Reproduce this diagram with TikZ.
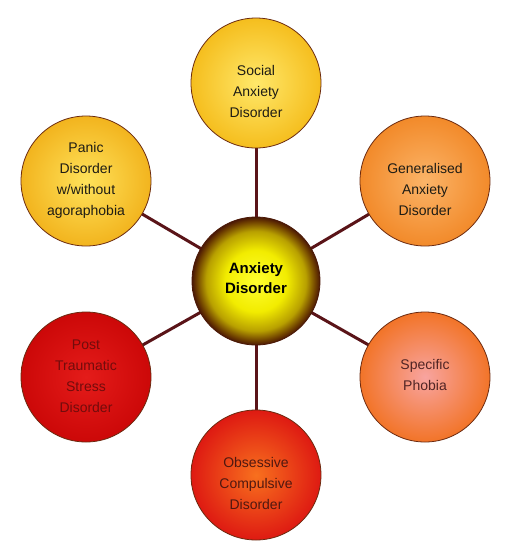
\documentclass[tikz,border=0pt]{standalone}
\usepackage{fontspec}
\setmainfont{Liberation Sans}
\usetikzlibrary{backgrounds}
\definecolor{linkc}{HTML}{5A1418}
\definecolor{rimc}{HTML}{6B2A10}
\definecolor{txtdark}{HTML}{1E1C14}
\definecolor{txtspec}{HTML}{502424}
\definecolor{txtptsd}{HTML}{720C0C}
\definecolor{txtocd}{HTML}{501810}
\definecolor{socIn}{HTML}{FFE86A}\definecolor{socOut}{HTML}{F5BE1E}
\definecolor{panIn}{HTML}{FFE25A}\definecolor{panOut}{HTML}{F2B41E}
\definecolor{genIn}{HTML}{FBB468}\definecolor{genOut}{HTML}{F28A2A}
\definecolor{speIn}{HTML}{F8A4A0}\definecolor{speOut}{HTML}{F27428}
\definecolor{ptsIn}{HTML}{E41C1A}\definecolor{ptsOut}{HTML}{CC0808}
\definecolor{ocdIn}{HTML}{F8701E}\definecolor{ocdOut}{HTML}{DE1A12}
\definecolor{ballA}{HTML}{FFFF30}
\definecolor{ballB}{HTML}{F2EC00}
\definecolor{ballC}{HTML}{B8A000}
\definecolor{ballD}{HTML}{6A3A00}
\definecolor{ballE}{HTML}{4A1806}
\pgfdeclareradialshading{centerball}{\pgfpoint{0bp}{0bp}}{%
  color(0bp)=(ballA); color(12bp)=(ballB); color(19.5bp)=(ballC);
  color(23.5bp)=(ballD); color(25bp)=(ballE); color(50bp)=(ballE)}
\tikzset{
  bubble/.style={circle, draw=rimc, line width=0.8pt, minimum size=130pt, inner sep=0pt},
  hub/.style={circle, draw=ballE, line width=0.8pt, minimum size=128pt, inner sep=0pt, shading=centerball},
  btext/.style={align=center, font=\fontsize{14}{21}\selectfont, inner sep=0pt},
  link/.style={draw=linkc, line width=3pt},
}
\begin{document}
\begin{tikzpicture}[x=1pt,y=-1pt]
\useasboundingbox (0,0) rectangle (520,558);
\node[hub] (hub) at (256,281) {};
\node[bubble, inner color=socIn, outer color=socOut] (soc) at (256,83) {};
\node[bubble, inner color=panIn, outer color=panOut] (pan) at (86,181) {};
\node[bubble, inner color=genIn, outer color=genOut] (gen) at (425,181) {};
\node[bubble, inner color=ptsIn, outer color=ptsOut] (pts) at (86,377) {};
\node[bubble, inner color=speIn, outer color=speOut] (spe) at (425,377) {};
\node[bubble, inner color=ocdIn, outer color=ocdOut] (ocd) at (256,475) {};
\node[btext, text=txtdark] (socT) at (256,91) {Social\\Anxiety\\Disorder};
\node[btext, text=txtdark] (panT) at (86,180) {Panic\\Disorder\\w/without\\agoraphobia};
\node[btext, text=txtdark] (genT) at (425,189) {Generalised\\Anxiety\\Disorder};
\node[btext, text=txtptsd] (ptsT) at (86,376) {Post\\Traumatic\\Stress\\Disorder};
\node[btext, text=txtspec] (speT) at (425,375) {Specific\\Phobia};
\node[btext, text=txtocd] (ocdT) at (256,483) {Obsessive\\Compulsive\\Disorder};
\node[align=center, font=\fontsize{15}{20}\selectfont\bfseries, text=black, inner sep=0pt] (hubT) at (256,278) {Anxiety\\Disorder};
\begin{scope}[on background layer]
\fill[white] (0,0) rectangle (520,558);
\draw[link] (hub.center) -- (soc.center);
\draw[link] (hub.center) -- (pan.center);
\draw[link] (hub.center) -- (gen.center);
\draw[link] (hub.center) -- (pts.center);
\draw[link] (hub.center) -- (spe.center);
\draw[link] (hub.center) -- (ocd.center);
\end{scope}
\end{tikzpicture}
\end{document}
